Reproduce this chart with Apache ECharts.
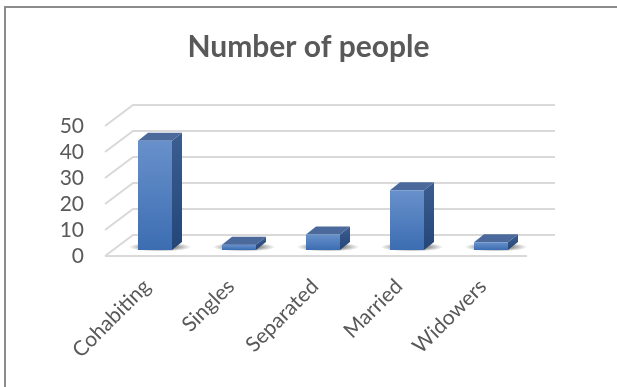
<!DOCTYPE html>
<html>
<head>
<meta charset="utf-8">
<script src="https://cdn.jsdelivr.net/npm/echarts@6/dist/echarts.min.js"></script>
<style>
html,body{margin:0;padding:0;background:#fff;}
#c{width:617px;height:387px;}
</style>
</head>
<body>
<div id="c"></div>
<script>
var categories = ['Cohabiting', 'Singles', 'Separated', 'Married', 'Widowers'];
var values = [42, 2, 6, 23, 3];
var tickValues = [0, 10, 20, 30, 40, 50];
var titleText = 'Number of people';

var FONT = 'Lato, "Open Sans", sans-serif';
var TXT = '#595959';
// depth geometry (pixels)
var DEPTH_X = 28, DEPTH_Y = -21;      // floor front -> back wall
var BAR_OX = 8, BAR_OY = -6;          // floor front -> bar front plane
var BAR_DX = 10, BAR_DY = -8;         // bar depth

var chart = echarts.init(document.getElementById('c'), null, {renderer: 'canvas'});

function gridItem(params, api) {
  var v = api.value(1);
  var n = categories.length;
  var p0 = api.coord([0, v]);
  var p1 = api.coord([n - 1, v]);
  var band = api.size([1, 0])[0];
  var xl = p0[0] - band / 2, xr = p1[0] + band / 2, y = p0[1];
  var children = [{
    type: 'polyline',
    shape: {points: [[xl, y], [xl + DEPTH_X, y + DEPTH_Y], [xr + DEPTH_X + 2, y + DEPTH_Y]]},
    style: {stroke: '#d9d9d9', lineWidth: 2, fill: null}
  }];
  if (v === 0) {
    children.push({
      type: 'line',
      shape: {x1: xl, y1: y, x2: xr + 2, y2: y},
      style: {stroke: '#d9d9d9', lineWidth: 2}
    });
  }
  return {type: 'group', children: children};
}

function barItem(params, api) {
  var i = api.value(0), v = api.value(1);
  var band = api.size([1, 0])[0];
  var w = band * 0.405;
  var top = api.coord([i, v]);
  var base = api.coord([i, 0]);
  var cx = top[0] + BAR_OX;
  var xl = cx - w / 2, xr = cx + w / 2;
  var yt = top[1] + BAR_OY, yb = base[1] + BAR_OY;
  var dx = BAR_DX, dy = BAR_DY;
  return {
    type: 'group',
    children: [
      {
        type: 'circle',
        shape: {cx: (xl + xr) / 2 + dx / 2, cy: yb + dy / 2 + 1, r: 6},
        scaleX: 5.2, scaleY: 0.75,
        originX: (xl + xr) / 2 + dx / 2, originY: yb + dy / 2 + 1,
        style: {
          fill: new echarts.graphic.RadialGradient(0.5, 0.5, 0.5, [
            {offset: 0, color: 'rgba(0,0,0,0.75)'},
            {offset: 0.6, color: 'rgba(0,0,0,0.35)'},
            {offset: 1, color: 'rgba(0,0,0,0)'}
          ])
        }
      },
      {
        type: 'polygon',
        shape: {points: [[xr, yt], [xr + dx, yt + dy], [xr + dx, yb + dy], [xr, yb]]},
        style: {
          fill: new echarts.graphic.LinearGradient(0, 0, 0, 1, [
            {offset: 0, color: '#3b5d8f'},
            {offset: 1, color: '#244577'}
          ])
        }
      },
      {
        type: 'polygon',
        shape: {points: [[xl, yt], [xl + dx, yt + dy], [xr + dx, yt + dy], [xr, yt]]},
        style: {fill: '#4b6a9b'}
      },
      {
        type: 'rect',
        shape: {x: xl, y: yt, width: xr - xl, height: Math.max(yb - yt, 0.5)},
        style: {
          fill: new echarts.graphic.LinearGradient(0, 0, 0, 1, [
            {offset: 0, color: '#6891cb'},
            {offset: 1, color: '#3c6db2'}
          ])
        }
      }
    ]
  };
}

chart.setOption({
  animation: false,
  backgroundColor: '#ffffff',
  title: {
    text: titleText,
    left: 'center',
    top: 27,
    textStyle: {fontFamily: FONT, fontSize: 30, fontWeight: 'bold', color: TXT}
  },
  graphic: [{
    type: 'rect',
    shape: {x: 5, y: 7, width: 700, height: 500},
    style: {fill: null, stroke: '#8c8c8c', lineWidth: 2},
    silent: true,
    z: 100
  }],
  grid: {left: 105, top: 126, width: 420, height: 130},
  xAxis: {
    type: 'category',
    data: categories,
    axisLine: {show: false},
    axisTick: {show: false},
    axisLabel: {
      interval: 0, rotate: 45, margin: 27,
      fontFamily: FONT, fontSize: 21, color: TXT
    }
  },
  yAxis: {
    type: 'value',
    min: 0, max: 50, interval: 10,
    splitLine: {show: false},
    axisLine: {show: false},
    axisTick: {show: false},
    axisLabel: {margin: 21, fontFamily: FONT, fontSize: 21, color: TXT}
  },
  series: [
    {
      type: 'custom',
      renderItem: gridItem,
      data: tickValues.map(function (v) { return [0, v]; }),
      silent: true,
      z: 1
    },
    {
      type: 'custom',
      renderItem: barItem,
      data: values.map(function (v, i) { return [i, v]; }),
      silent: true,
      z: 2
    }
  ]
});
</script>
</body>
</html>
